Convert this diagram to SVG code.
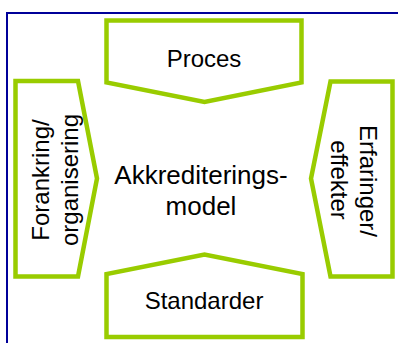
<svg xmlns="http://www.w3.org/2000/svg" width="398" height="343" viewBox="0 0 398 343">
  <style>
    .frame { fill: none; stroke: #000099; stroke-width: 2; }
    .block { fill: #ffffff; stroke: #99cc00; stroke-width: 4.5; stroke-linejoin: miter; }
    .lbl { font-family: "Liberation Sans", Arial, sans-serif; font-size: 24px; fill: #000000; text-anchor: middle; }
    .core { font-size: 26px; }
  </style>
  <rect width="398" height="343" fill="#ffffff"/>
  <path class="frame" d="M7,343 V13 H398"/>

  <g id="proces">
    <polygon class="block" points="106.5,20.5 301.5,20.5 301.5,82.5 204.5,102 106.5,82.5"/>
    <text class="lbl" x="204" y="67">Proces</text>
  </g>

  <g id="standarder">
    <polygon class="block" points="106.5,337 302.5,337 302.5,274 204.5,254.5 106.5,274"/>
    <text class="lbl" x="204" y="309">Standarder</text>
  </g>

  <g id="forankring">
    <polygon class="block" points="15.5,81 78,81 97,178.5 78,276.5 15.5,276.5"/>
    <text class="lbl" transform="translate(48.5,180) rotate(-90)">Forankring/</text>
    <text class="lbl" transform="translate(77.5,180) rotate(-90)">organisering</text>
  </g>

  <g id="erfaringer">
    <polygon class="block" points="392.5,81.5 330.5,81.5 311,178.5 330.5,276.5 392.5,276.5"/>
    <text class="lbl" transform="translate(360,181) rotate(90)">Erfaringer/</text>
    <text class="lbl" transform="translate(331,180) rotate(90)">effekter</text>
  </g>

  <g id="akkrediteringsmodel">
    <text class="lbl core" x="201" y="183.5">Akkrediterings-</text>
    <text class="lbl core" x="201" y="215">model</text>
  </g>

  <g id="connectors"></g>
</svg>
